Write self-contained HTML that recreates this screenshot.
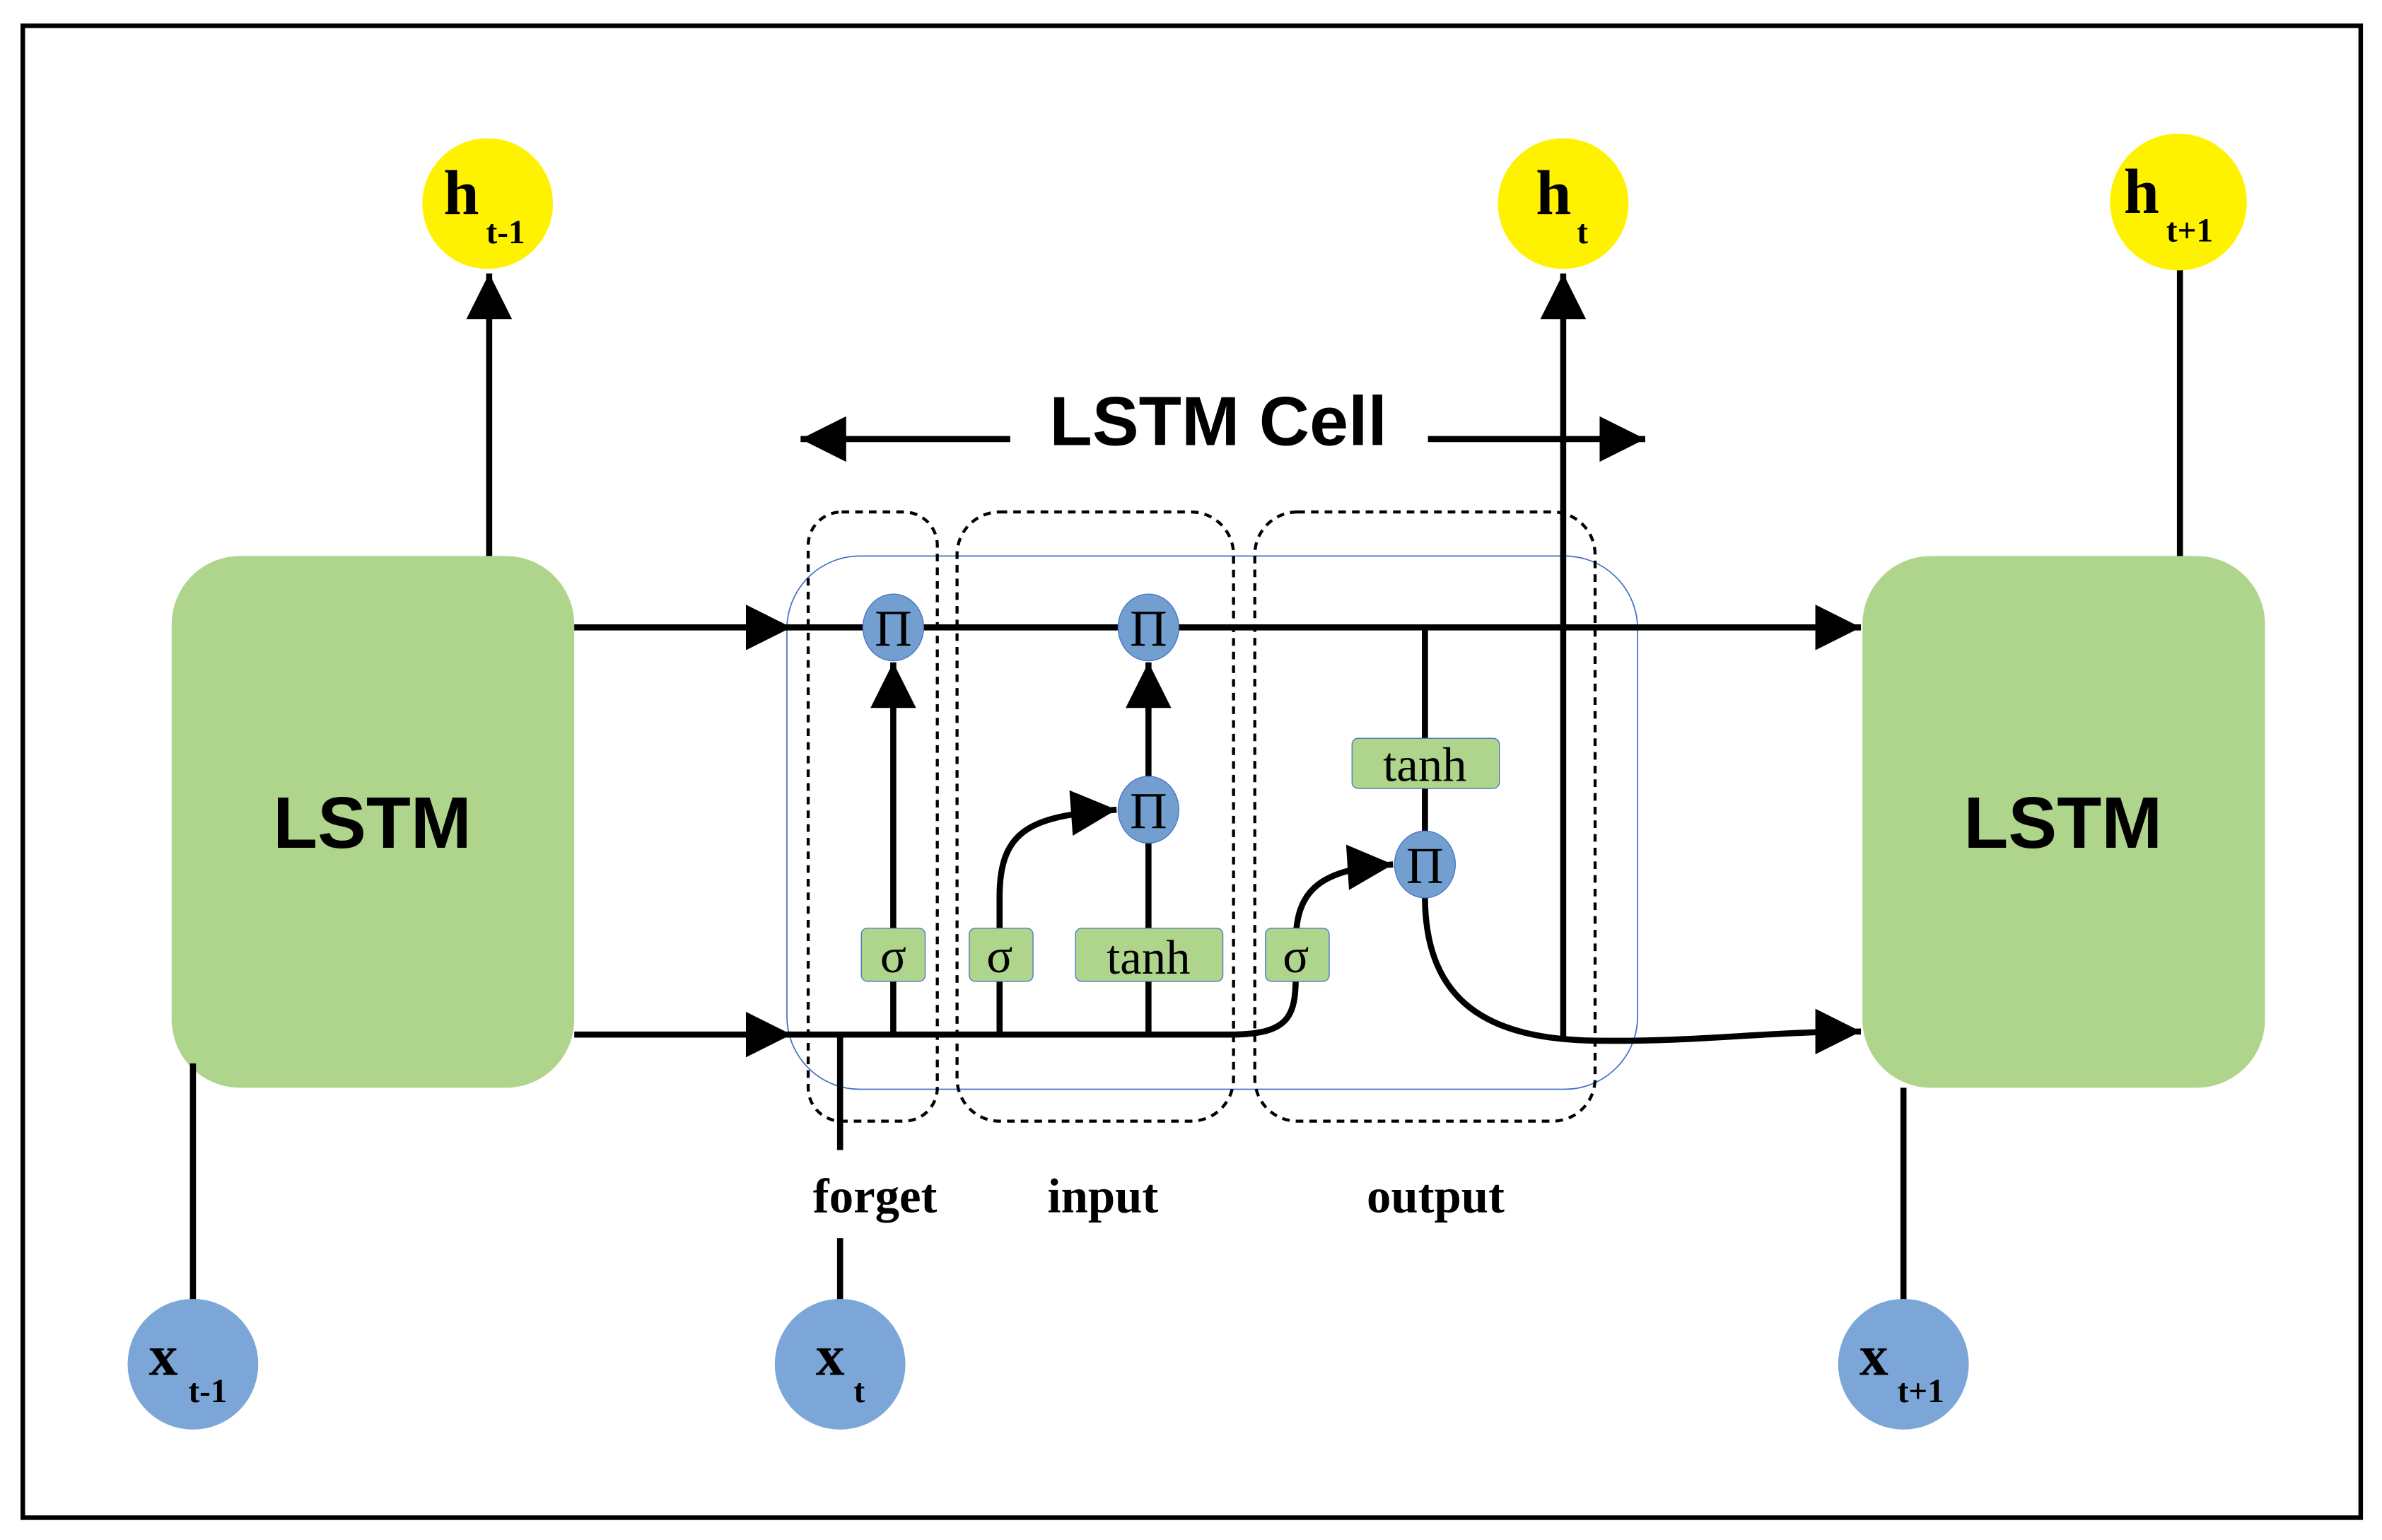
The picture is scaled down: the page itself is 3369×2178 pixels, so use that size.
<!DOCTYPE html>
<html><head><meta charset="utf-8"><style>
html,body{margin:0;padding:0;background:#fff}
svg{display:block}
.s{font-family:"Liberation Serif",serif;font-weight:bold}
.a{font-family:"Liberation Sans",sans-serif;font-weight:bold}
</style></head><body>
<svg width="3369" height="2178" viewBox="0 0 1568 1013.7" xmlns="http://www.w3.org/2000/svg">
<defs>
<marker id="ar" viewBox="0 0 10 10" refX="10" refY="5" markerWidth="8" markerHeight="7.5" orient="auto" markerUnits="strokeWidth">
<path d="M0,0 L10,5 L0,10 z" fill="#000"/></marker>
</defs>
<rect x="15" y="17" width="1539" height="982" fill="#fff" stroke="#000" stroke-width="3"/>

<rect x="518" y="366" width="560" height="351" rx="48" fill="none" stroke="#4472c4" stroke-width="0.8"/>
<g fill="none" stroke="#000" stroke-width="2" stroke-dasharray="5,4">
<rect x="532" y="337" width="85" height="401" rx="22"/>
<rect x="630" y="337" width="182" height="401" rx="28"/>
<rect x="826" y="337" width="224" height="401" rx="28"/>
</g>

<rect x="113" y="366" width="265" height="350" rx="45" fill="#aed58b"/>
<rect x="1226" y="366" width="265" height="350" rx="45" fill="#aed58b"/>
<text x="245" y="558" text-anchor="middle" class="a" font-size="48">LSTM</text>
<text x="1358" y="558" text-anchor="middle" class="a" font-size="48">LSTM</text>

<g stroke="#000" stroke-width="4" fill="none">
<line x1="322" y1="366" x2="322" y2="180" marker-end="url(#ar)"/>
<line x1="1029" y1="685" x2="1029" y2="180" marker-end="url(#ar)"/>
<line x1="1435" y1="366" x2="1435" y2="176"/>
<line x1="127" y1="700" x2="127" y2="858"/>
<line x1="553" y1="681" x2="553" y2="757"/>
<line x1="553" y1="815" x2="553" y2="858"/>
<line x1="1253" y1="716" x2="1253" y2="858"/>
<line x1="378" y1="413" x2="521" y2="413" marker-end="url(#ar)"/>
<line x1="520" y1="413" x2="1225" y2="413" marker-end="url(#ar)"/>
<line x1="378" y1="681" x2="521" y2="681" marker-end="url(#ar)"/>
<path d="M520,681 L810,681 C850,681 853,668 853,640"/>
<line x1="588" y1="681" x2="588" y2="436" marker-end="url(#ar)"/>
<path d="M658,681 L658,590 C658,545 680,537 735,533" marker-end="url(#ar)"/>
<line x1="756" y1="681" x2="756" y2="555"/>
<line x1="756" y1="511" x2="756" y2="436" marker-end="url(#ar)"/>
<path d="M853,620 C853,585 870,572 917,569" marker-end="url(#ar)"/>
<line x1="938" y1="413" x2="938" y2="548"/>
<path d="M938,590 C938,660 980,684 1050,685 C1120,686 1160,679 1225,679" marker-end="url(#ar)"/>
<line x1="665" y1="289" x2="527" y2="289" marker-end="url(#ar)"/>
<line x1="940" y1="289" x2="1083" y2="289" marker-end="url(#ar)"/>
</g>

<g fill="#aed58b" stroke="#4472c4" stroke-width="0.6">
<rect x="567" y="611" width="42" height="35" rx="4"/>
<rect x="638" y="611" width="42" height="35" rx="4"/>
<rect x="708" y="611" width="97" height="35" rx="4"/>
<rect x="833" y="611" width="42" height="35" rx="4"/>
<rect x="890" y="486" width="97" height="33" rx="4"/>
</g>
<g font-family="Liberation Serif,serif" font-size="32" text-anchor="middle">
<text x="588" y="640">σ</text>
<text x="658" y="640">σ</text>
<text x="756" y="641">tanh</text>
<text x="853" y="640">σ</text>
<text x="938" y="514">tanh</text>
</g>

<g fill="#729fcf" stroke="#4472c4" stroke-width="0.6">
<ellipse cx="588" cy="413" rx="20" ry="22"/>
<ellipse cx="756" cy="413" rx="20" ry="22"/>
<ellipse cx="756" cy="533" rx="20" ry="22"/>
<ellipse cx="938" cy="569" rx="20" ry="22"/>
</g>
<g font-family="Liberation Serif,serif" font-size="34" text-anchor="middle">
<text x="588" y="425">Π</text>
<text x="756" y="425">Π</text>
<text x="756" y="545">Π</text>
<text x="938" y="581">Π</text>
</g>

<g fill="#fff200">
<circle cx="321" cy="134" r="43"/>
<circle cx="1029" cy="134" r="43"/>
<circle cx="1434" cy="133" r="45"/>
</g>
<g fill="#7ba6d7">
<circle cx="127" cy="898" r="43"/>
<circle cx="553" cy="898" r="43"/>
<circle cx="1253" cy="898" r="43"/>
</g>
<g class="s">
<text x="292" y="141" font-size="42">h</text><text x="320" y="160" font-size="22">t-1</text>
<text x="1011" y="141" font-size="42">h</text><text x="1038" y="160" font-size="22">t</text>
<text x="1398" y="140" font-size="42">h</text><text x="1426" y="159" font-size="22">t+1</text>
<text x="98" y="905" font-size="38">x</text><text x="124" y="923" font-size="22">t-1</text>
<text x="537" y="905" font-size="38">x</text><text x="562" y="923" font-size="22">t</text>
<text x="1224" y="905" font-size="38">x</text><text x="1249" y="923" font-size="22">t+1</text>
<text x="576" y="798" font-size="32" text-anchor="middle">forget</text>
<text x="726" y="798" font-size="32" text-anchor="middle">input</text>
<text x="945" y="798" font-size="32" text-anchor="middle">output</text>
</g>
<text x="802" y="293" class="a" font-size="46" text-anchor="middle">LSTM Cell</text>
</svg>
</body></html>
